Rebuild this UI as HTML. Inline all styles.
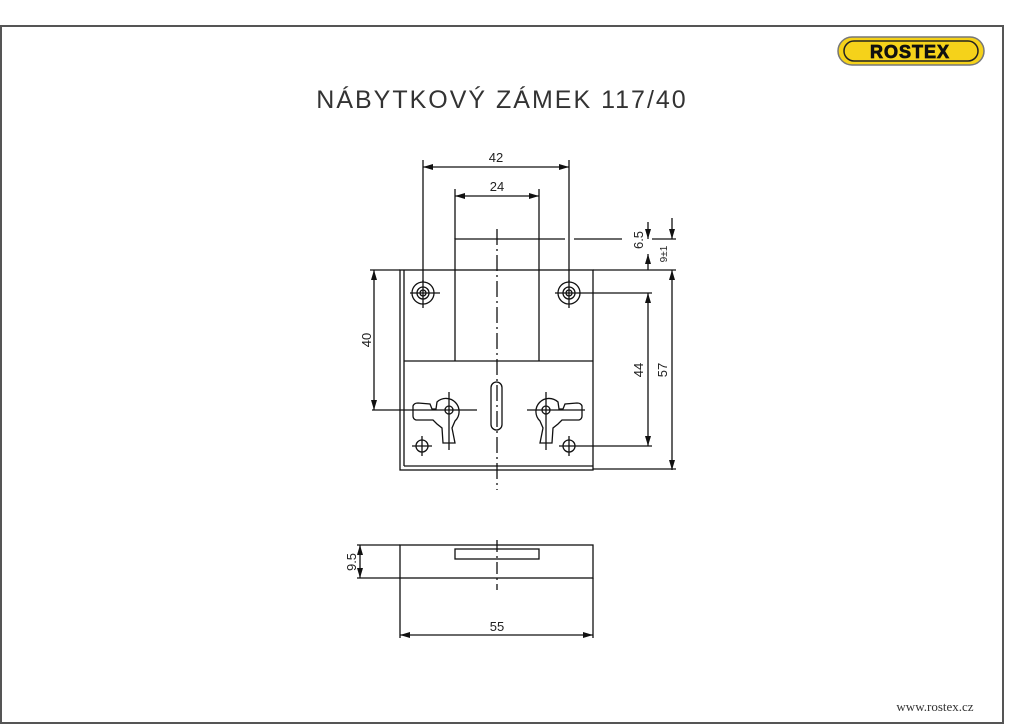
<!DOCTYPE html>
<html><head><meta charset="utf-8"><style>
html,body{margin:0;padding:0;background:#fff;width:1024px;height:724px;overflow:hidden}
svg{display:block}
text{font-family:"Liberation Sans",sans-serif;fill:#222}
</style></head><body>
<svg width="1024" height="724" viewBox="0 0 1024 724">
<rect x="1" y="26" width="1002" height="697" fill="none" stroke="#555" stroke-width="2"/>
<!-- logo -->
<rect x="838" y="37" width="146" height="28" rx="14" fill="#f5d21a" stroke="#777" stroke-width="1.5"/>
<rect x="844" y="41" width="134" height="20" rx="10" fill="none" stroke="#222" stroke-width="1.5"/>
<text x="910" y="58" text-anchor="middle" font-size="18" font-weight="bold" stroke="#111" stroke-width="0.8" style="font-family:'Liberation Sans',sans-serif;letter-spacing:1px;fill:#111">ROSTEX</text>
<text x="502" y="108" text-anchor="middle" font-size="25" style="letter-spacing:2px;fill:#333;font-weight:normal">NÁBYTKOVÝ  ZÁMEK  117/40</text>
<text x="935" y="711" text-anchor="middle" font-size="13" style="font-family:'Liberation Serif',serif;fill:#333">www.rostex.cz</text>
<defs><marker id="a" viewBox="0 0 10 6" refX="10" refY="3" markerWidth="10" markerHeight="6" orient="auto-start-reverse" markerUnits="userSpaceOnUse"><path d="M0,0 L10,3 L0,6z" fill="#111"/></marker></defs>
<g stroke="#111" stroke-width="1.3" fill="none">
<!-- body -->
<rect x="400" y="270" width="193" height="200"/>
<line x1="404" y1="270" x2="404" y2="466"/><line x1="404" y1="466" x2="593" y2="466"/>
<line x1="404" y1="361" x2="593" y2="361"/>
<polyline points="455,361 455,239 539,239 539,361"/>
<line x1="539" y1="239" x2="565" y2="239"/><line x1="574" y1="239" x2="622" y2="239"/>
<!-- centerline -->
<line x1="497" y1="229" x2="497" y2="490" stroke-dasharray="16,4,2,4"/>
<!-- top holes -->
<circle cx="423" cy="293" r="11"/><circle cx="423" cy="293" r="6"/><circle cx="423" cy="293" r="3"/>
<circle cx="569" cy="293" r="11"/><circle cx="569" cy="293" r="6"/><circle cx="569" cy="293" r="3"/>
<line x1="410" y1="293" x2="440" y2="293"/><line x1="423" y1="280" x2="423" y2="308"/>
<line x1="555" y1="293" x2="652" y2="293"/><line x1="569" y1="280" x2="569" y2="308"/>
<!-- small holes -->
<circle cx="422" cy="446" r="6"/><line x1="412" y1="446" x2="432" y2="446"/><line x1="422" y1="436" x2="422" y2="456"/>
<circle cx="569" cy="446" r="6"/><line x1="559" y1="446" x2="652" y2="446"/><line x1="569" y1="436" x2="569" y2="456"/>
<!-- keys -->
<path d="M437,402 A13,13 0 1 1 455,421 L452,428 L455,443 L443,443 L442,428 L437,424 L433,420 L416,420 Q413,419 413,416 L413,406 Q414,403 418,403 L430,404 L432,409 L436,409 Z"/>
<circle cx="449" cy="410" r="4"/>
<path d="M558,402 A13,13 0 1 0 540,421 L543,428 L540,443 L552,443 L553,428 L558,424 L562,420 L579,420 Q582,419 582,416 L582,406 Q581,403 577,403 L565,404 L563,409 L559,409 Z"/>
<circle cx="546" cy="410" r="4"/>
<line x1="372" y1="410" x2="477" y2="410"/><line x1="449" y1="392" x2="449" y2="450"/>
<line x1="527" y1="410" x2="585" y2="410"/><line x1="546" y1="392" x2="546" y2="450"/>
<rect x="491" y="382" width="11" height="48" rx="5.5"/>
<!-- dims -->
<line x1="423" y1="160" x2="423" y2="282"/><line x1="569" y1="160" x2="569" y2="282"/>
<line x1="423" y1="167" x2="569" y2="167" marker-start="url(#a)" marker-end="url(#a)"/>
<line x1="455" y1="189" x2="455" y2="239"/><line x1="539" y1="189" x2="539" y2="239"/>
<line x1="455" y1="196" x2="539" y2="196" marker-start="url(#a)" marker-end="url(#a)"/>
<line x1="648" y1="222" x2="648" y2="239" marker-end="url(#a)"/>
<line x1="648" y1="254" x2="648" y2="270" marker-start="url(#a)"/>
<line x1="652" y1="239" x2="676" y2="239"/>
<line x1="672" y1="218" x2="672" y2="239" marker-end="url(#a)"/>
<line x1="672" y1="270" x2="672" y2="470" marker-start="url(#a)" marker-end="url(#a)"/>
<line x1="593" y1="270" x2="676" y2="270"/>
<line x1="648" y1="293" x2="648" y2="446" marker-start="url(#a)" marker-end="url(#a)"/>
<line x1="593" y1="469" x2="676" y2="469"/>
<line x1="370" y1="270" x2="400" y2="270"/>
<line x1="374" y1="270" x2="374" y2="410" marker-start="url(#a)" marker-end="url(#a)"/>
<!-- bottom view -->
<rect x="400" y="545" width="193" height="33"/>
<rect x="455" y="549" width="84" height="10"/>
<line x1="497" y1="540" x2="497" y2="590" stroke-dasharray="12,4,2,4"/>
<line x1="357" y1="545" x2="400" y2="545"/><line x1="357" y1="578" x2="400" y2="578"/>
<line x1="360" y1="545" x2="360" y2="578" marker-start="url(#a)" marker-end="url(#a)"/>
<line x1="400" y1="578" x2="400" y2="638"/><line x1="593" y1="578" x2="593" y2="638"/>
<line x1="400" y1="635" x2="593" y2="635" marker-start="url(#a)" marker-end="url(#a)"/>
</g>
<g font-size="13">
<text x="496" y="162" text-anchor="middle">42</text>
<text x="497" y="191" text-anchor="middle">24</text>
<text x="497" y="631" text-anchor="middle">55</text>
<text transform="translate(643,240) rotate(-90)" text-anchor="middle">6.5</text>
<text transform="translate(667,254) rotate(-90)" text-anchor="middle" font-size="10">9±1</text>
<text transform="translate(643,370) rotate(-90)" text-anchor="middle">44</text>
<text transform="translate(667,370) rotate(-90)" text-anchor="middle">57</text>
<text transform="translate(371,340) rotate(-90)" text-anchor="middle">40</text>
<text transform="translate(356,562) rotate(-90)" text-anchor="middle">9.5</text>
</g>
</svg>
</body></html>
